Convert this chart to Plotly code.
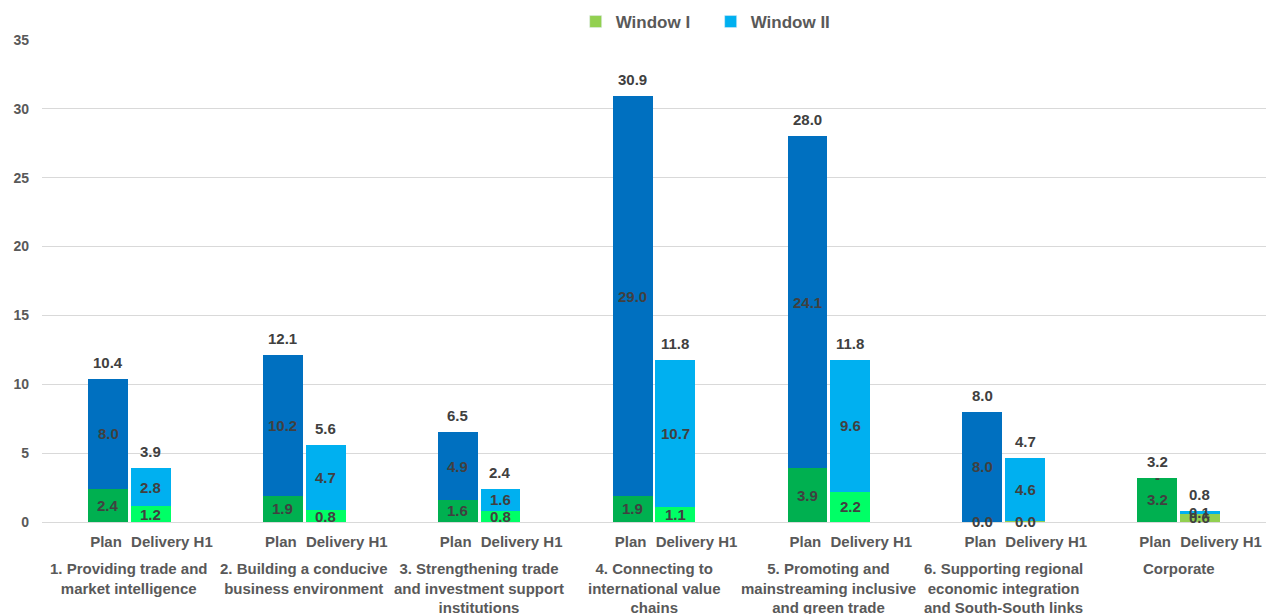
import plotly.graph_objects as go

# ---------------- data ----------------
groups = [
    "1. Providing trade and<br>market intelligence",
    "2. Building a conducive<br>business environment",
    "3. Strengthening trade<br>and investment support<br>institutions",
    "4. Connecting to<br>international value<br>chains",
    "5. Promoting and<br>mainstreaming inclusive<br>and green trade",
    "6. Supporting regional<br>economic integration<br>and South-South links",
    "Corporate",
]
sub_labels = ["Plan", "Delivery H1"]

plan_w1 = [2.4, 1.9, 1.6, 1.9, 3.9, 0.02, 3.2]
plan_w2 = [8.0, 10.2, 4.9, 29.0, 24.1, 8.0, 0.0]
deliv_w1 = [1.16, 0.84, 0.8, 1.1, 2.2, 0.04, 0.64]
deliv_w2 = [2.76, 4.74, 1.6, 10.7, 9.6, 4.64, 0.14]

y_ticks = [0, 5, 10, 15, 20, 25, 30, 35]

# ---------------- style ----------------
FONT = "Liberation Sans, Arial, sans-serif"
TXT = "#404040"
AX = "#595959"
C_PLAN_W1 = ["#00B050"] * 5 + ["#92D050", "#00B050"]
C_PLAN_W2 = ["#0070C0"] * 7
C_DEL_W1 = ["#00FF66"] * 5 + ["#92D050", "#92D050"]
C_DEL_W2 = ["#00B0F0"] * 7
BAR_W = 0.228
SHIFT = 0.122

n = len(groups)
x_plan = [i - SHIFT for i in range(n)]
x_del = [i + SHIFT for i in range(n)]


def fmt(v):
    return "-" if v == 0 else f"{v:.1f}"


fig = go.Figure()
for xs, ys, cols in [
    (x_plan, plan_w1, C_PLAN_W1),
    (x_plan, plan_w2, C_PLAN_W2),
    (x_del, deliv_w1, C_DEL_W1),
    (x_del, deliv_w2, C_DEL_W2),
]:
    fig.add_trace(go.Bar(x=xs, y=ys, width=BAR_W, marker=dict(color=cols, line=dict(width=0)),
                         showlegend=False, hoverinfo="y"))

# legend entries
fig.add_trace(go.Bar(x=[None], y=[None], name="Window I", marker_color="#92D050"))
fig.add_trace(go.Bar(x=[None], y=[None], name="Window II", marker_color="#00B0F0"))

annotations = []
lbl_font = dict(family=FONT, size=15, color=TXT, weight="bold")
for xs, w1, w2 in [(x_plan, plan_w1, plan_w2), (x_del, deliv_w1, deliv_w2)]:
    for x, a, b in zip(xs, w1, w2):
        annotations.append(dict(x=x, y=a / 2, text=fmt(a), showarrow=False, font=lbl_font))
        annotations.append(dict(x=x, y=a + b / 2, text=fmt(b), showarrow=False, font=lbl_font))
        annotations.append(dict(x=x, y=a + b, text=f"{a + b:.1f}", showarrow=False, font=lbl_font,
                                yanchor="bottom", yshift=6))

for i, g in enumerate(groups):
    annotations.append(dict(x=i, y=0, yref="paper", text=g, showarrow=False, yanchor="top",
                            yshift=-36, font=dict(family=FONT, size=15, color=AX, weight="bold")))

tickvals = []
ticktext = []
for i in range(n):
    tickvals += [i - 0.134, i + 0.243]
    ticktext += sub_labels

fig.update_layout(
    width=1268, height=614,
    barmode="stack",
    plot_bgcolor="white", paper_bgcolor="white",
    margin=dict(l=42, r=2, t=40, b=92),
    font=dict(family=FONT, color=AX),
    showlegend=True,
    legend=dict(orientation="h", x=0.436, xanchor="left", y=1.0, yanchor="bottom",
                traceorder="normal",
                font=dict(family=FONT, size=17, color=AX, weight="bold"),
                itemclick=False, entrywidth=90),
    xaxis=dict(range=[-0.5, n - 0.5], tickvals=tickvals, ticktext=ticktext, showgrid=False,
               zeroline=False, showline=False, ticks="", ticklabelstandoff=9,
               tickfont=dict(family=FONT, size=15, color=AX, weight="bold")),
    yaxis=dict(range=[0, 35], tickvals=y_ticks, showgrid=True, gridcolor="#D9D9D9", gridwidth=1,
               zeroline=True, zerolinecolor="#D9D9D9", zerolinewidth=1, showline=False,
               ticklabelstandoff=12,
               tickfont=dict(family=FONT, size=14, color=AX, weight="bold")),
    annotations=annotations,
    bargap=0,
)

fig.write_html("out.html")
